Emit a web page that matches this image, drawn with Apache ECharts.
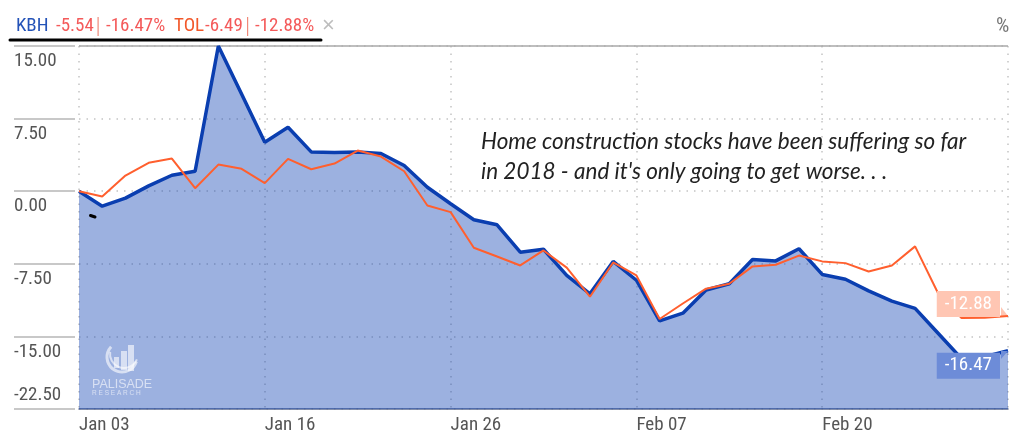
<!DOCTYPE html>
<html>
<head>
<meta charset="utf-8">
<title>KBH TOL</title>
<script src="https://cdn.jsdelivr.net/npm/echarts@6/dist/echarts.min.js"></script>
<style>
html,body{margin:0;padding:0;background:#fff}
#chart1{width:1024px;height:431px}
</style>
</head>
<body>
<div id="chart1"></div>
<script>
var dates = ['Jan 03','Jan 04','Jan 05','Jan 08','Jan 09','Jan 10','Jan 11','Jan 12','Jan 16','Jan 17','Jan 18',
  'Jan 19','Jan 22','Jan 23','Jan 24','Jan 25','Jan 26','Jan 29','Jan 30','Jan 31','Feb 01','Feb 02','Feb 05','Feb 06',
  'Feb 07','Feb 08','Feb 09','Feb 12','Feb 13','Feb 14','Feb 15','Feb 16','Feb 20','Feb 21','Feb 22','Feb 23','Feb 26',
  'Feb 27','Feb 28','Mar 01','Mar 02'];
var kbh = [0,-1.55,-0.72,0.55,1.65,2.06,15,10.05,5.06,6.6,4.06,3.99,4.06,3.89,2.65,0.41,-1.3,-2.95,-3.47,-6.3,-6.0,
  -8.7,-10.6,-7.26,-9.2,-13.4,-12.6,-10.2,-9.56,-7.05,-7.2,-5.95,-8.6,-9.1,-10.3,-11.35,-12.1,-14.7,-17.3,-17.1,-16.47];
var tol = [0,-0.55,1.62,2.93,3.37,0.31,2.75,2.31,0.83,3.34,2.27,2.86,4.2,3.58,2.06,-1.48,-2.16,-5.84,-6.74,-7.67,-6.12,
  -7.9,-10.9,-7.36,-8.7,-13.2,-11.6,-10.07,-9.56,-7.77,-7.6,-6.65,-7.25,-7.43,-8.3,-7.67,-5.7,-10.6,-13.1,-13.07,-12.88];

var narrow = '"Roboto Condensed",Roboto';

function headText(x, s, color) {
  return {type:'text', x:x, y:17, z:10, style:{text:s, fill:color, font:'19px ' + narrow}};
}
function lastValue(p) {
  return Array.isArray(p.value) ? p.value[1] : p.value;
}

var myChart = echarts.init(document.getElementById('chart1'));
var option = {
  animation: false,
  grid: {left:79, right:16, top:46, bottom:22, outerBoundsMode:'none'},
  xAxis: {
    type:'category', boundaryGap:false, data:dates,
    axisLine:{onZero:false, lineStyle:{color:'#5b6a8e', width:1.5}},
    axisTick:{show:false},
    axisLabel:{
      interval:function(i){return i % 8 === 0 && i < 40;},
      align:'left', margin:7, fontSize:19, color:'#555', fontFamily:narrow
    },
    splitLine:{show:true, interval:7, lineStyle:{color:'#c4c4c4', type:[1.5,6], width:1.5}}
  },
  yAxis: {
    type:'value', min:-22.5, max:15, interval:7.5, offset:4,
    axisLine:{show:false},
    axisTick:{show:true, length:61, lineStyle:{color:'#c8c8c8', width:2}},
    axisLabel:{
      formatter:function(v){return v.toFixed(2);},
      align:'left', verticalAlign:'top', verticalAlignMinLabel:'bottom', margin:61,
      padding:[6,0,4,0], fontSize:19, color:'#555', fontFamily:narrow
    },
    splitLine:{show:true, lineStyle:{color:'#c4c4c4', type:[1.5,6], width:1.5}}
  },
  series: [
    {
      name:'KBH', type:'line', data:kbh, symbol:'none', z:3,
      lineStyle:{color:'#0a3eb0', width:3.5},
      areaStyle:{color:'rgba(0,53,176,0.39)', origin:'start', opacity:1},
      endLabel:{
        show:true, formatter:lastValue,
        align:'right', verticalAlign:'middle', offset:[-16,15],
        padding:[0,8,0,8], height:26, lineHeight:26, backgroundColor:'#6d8cd8',
        color:'#fff', fontSize:19, fontFamily:narrow
      }
    },
    {
      name:'TOL', type:'line', data:tol, symbol:'none', z:4,
      lineStyle:{color:'#ff5f2e', width:2},
      endLabel:{
        show:true, formatter:lastValue,
        align:'right', verticalAlign:'middle', offset:[-16,-12],
        padding:[0,8,0,8], height:26, lineHeight:26, backgroundColor:'#ffc6b3',
        color:'#fff', fontSize:19, fontFamily:narrow
      }
    }
  ],
  graphic: [
    headText(16,'KBH','#2453b8'),
    headText(56,'-5.54','#f45a5a'),
    {type:'rect', z:10, shape:{x:97.5,y:17,width:1.2,height:19}, style:{fill:'#f08a7a'}},
    headText(106,'-16.47%','#f45a5a'),
    headText(174,'TOL','#f2582a'),
    headText(205,'-6.49','#f45a5a'),
    {type:'rect', z:10, shape:{x:247,y:17,width:1.2,height:19}, style:{fill:'#f08a7a'}},
    headText(255,'-12.88%','#f45a5a'),
    {type:'text', x:322, y:15, z:10, style:{text:'×', fill:'#bdbdbd', font:'22px "Liberation Sans"'}},
    {type:'text', x:996, y:16, z:10, style:{text:'%', fill:'#777', font:'21px ' + narrow}},
    {type:'line', z:11, shape:{x1:10,y1:40,x2:321,y2:40}, style:{stroke:'#000', lineWidth:3, lineCap:'round'}},
    {type:'line', z:1, shape:{x1:79,y1:46,x2:1008,y2:46}, style:{stroke:'#a9a9a9', lineWidth:1.5}},
    {type:'line', z:11, shape:{x1:90.5,y1:215.5,x2:95,y2:217}, style:{stroke:'#000', lineWidth:3, lineCap:'round'}},
    {type:'polygon', z:2, shape:{points:[[1001,307],[1008,316],[1001,316]]}, style:{fill:'#ffc6b3'}},
    {type:'polygon', z:5, shape:{points:[[1001,351],[1008,351],[1001,359]]}, style:{fill:'#6d8cd8'}},
    {type:'text', x:481, y:130, z:10, style:{text:'Home construction stocks have been suffering so far', fill:'#222', font:'italic 22.5px Lato'}},
    {type:'text', x:481, y:160, z:10, style:{text:"in 2018 - and it's only going to get worse. . .", fill:'#222', font:'italic 22.5px Lato'}},
    // logo
    {type:'arc', z:10, shape:{cx:122,cy:357,r:15,startAngle:0.3,endAngle:3.9}, style:{stroke:'rgba(255,255,255,0.6)', fill:null, lineWidth:3}},
    {type:'arc', z:10, shape:{cx:124,cy:354,r:14,startAngle:0.4,endAngle:3.3}, style:{stroke:'rgba(255,255,255,0.6)', fill:null, lineWidth:2}},
    {type:'rect', z:10, shape:{x:121,y:351,width:6,height:19}, style:{fill:'rgba(255,255,255,0.6)'}},
    {type:'rect', z:10, shape:{x:128,y:345,width:6,height:26}, style:{fill:'rgba(255,255,255,0.6)'}},
    {type:'rect', z:10, shape:{x:114,y:357,width:5,height:11}, style:{fill:'rgba(255,255,255,0.6)'}},
    {type:'text', x:92, y:378, z:10, style:{text:'PALISADE', fill:'rgba(255,255,255,0.6)', font:'12.5px "Liberation Sans"'}},
    {type:'text', x:92, y:390, z:10, style:{text:'R E S E A R C H', fill:'rgba(255,255,255,0.6)', font:'6.5px "Liberation Sans"'}}
  ]
};
myChart.setOption(option);
</script>
</body>
</html>
